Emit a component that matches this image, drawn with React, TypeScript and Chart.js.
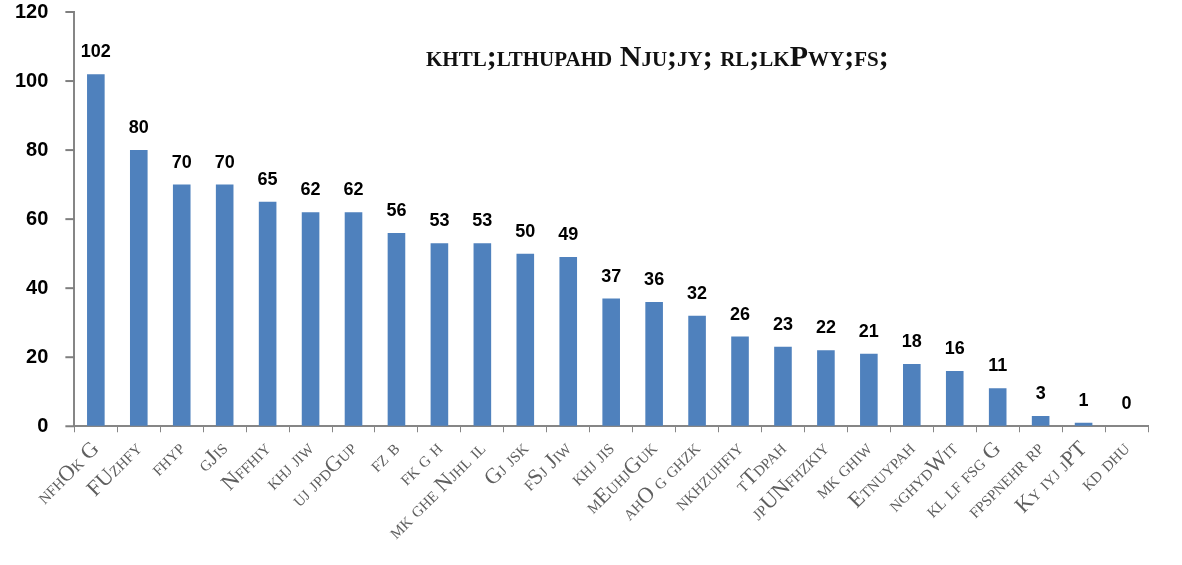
import React, { useEffect, useRef } from "react";
import { Chart, registerables } from "chart.js";

Chart.register(...registerables);

const TITLE = "khtl;lthupahd Nju;jy; rl;lkPwy;fs;";

const categories = [
  "nfhOk G",
  "FUzhfy",
  "fhyp",
  "gJis",
  "Nffhiy",
  "khj jiw",
  "uj jpdGup",
  "fz b",
  "fk g h",
  "mk ghe Njhl il",
  "Gj jsk",
  "fSj Jiw",
  "khj jis",
  "mEuhjGuk",
  "ahO g ghzk",
  "nkhzuhfiy",
  "tTdpah",
  "jpUNfhzkiy",
  "mk ghiw",
  "Etnuypah",
  "nghydWit",
  "kl lf fsg G",
  "fpspnehr rp",
  "Ky iyj jPT",
  "kd dhu",
];

const values = [102, 80, 70, 70, 65, 62, 62, 56, 53, 53, 50, 49, 37, 36, 32, 26, 23, 22, 21, 18, 16, 11, 3, 1, 0];

const yTicks = [0, 20, 40, 60, 80, 100, 120];

const overlayPlugin = {
  id: "overlay",
  afterDraw(chart: any) {
    const { ctx, chartArea } = chart;
    const meta = chart.getDatasetMeta(0);
    const yScale = chart.scales.y;
    ctx.save();
    // y tick marks, left of the axis line
    ctx.strokeStyle = "#7f7f7f";
    ctx.lineWidth = 2;
    ctx.setLineDash([]);
    const axisX = chartArea.left;
    yTicks.forEach((v) => {
      const y = yScale.getPixelForValue(v);
      ctx.beginPath();
      ctx.moveTo(axisX - 9, y);
      ctx.lineTo(axisX, y);
      ctx.stroke();
    });
    // data labels
    ctx.fillStyle = "#000";
    ctx.font = "bold 18px 'Liberation Sans', Arial, sans-serif";
    ctx.textAlign = "center";
    ctx.textBaseline = "alphabetic";
    meta.data.forEach((bar: any, i: number) => {
      ctx.fillText(String(values[i]), bar.x, bar.y - 17);
    });
    // title
    ctx.font = "small-caps bold 30px 'Liberation Serif', serif";
    ctx.textBaseline = "middle";
    const tx = chartArea.left + (chartArea.right - chartArea.left) * 0.543;
    const ty = chartArea.top + 46;
    ctx.fillStyle = "#111";
    ctx.fillText(TITLE, tx, ty);
    ctx.restore();
  },
};

export default function App() {
  const ref = useRef<HTMLCanvasElement | null>(null);
  useEffect(() => {
    document.body.style.margin = "0";
    if (!ref.current) return;
    const chart = new Chart(ref.current, {
      type: "bar",
      data: {
        labels: categories,
        datasets: [
          {
            data: values,
            backgroundColor: "#4F81BD",
            borderWidth: 0,
            barPercentage: 0.41,
            categoryPercentage: 1,
          },
        ],
      },
      options: {
        animation: false,
        responsive: false,
        maintainAspectRatio: false,
        layout: { padding: { left: 15, right: 34, top: 0, bottom: 16 } },
        plugins: {
          legend: { display: false },
          tooltip: { enabled: false },
          title: { display: false },
        },
        scales: {
          x: {
            grid: {
              display: true,
              drawOnChartArea: false,
              drawTicks: true,
              tickLength: 6,
              color: "#868686",
              offset: true,
            },
            border: { display: true, color: "#868686", width: 2 },
            ticks: {
              autoSkip: false,
              maxRotation: 45,
              minRotation: 45,
              padding: 4,
              color: "#5f5f5f",
              font: { family: "'Liberation Serif', serif", size: 22, weight: "small-caps normal" as any },
            },
          },
          y: {
            min: 0,
            max: 120,
            afterBuildTicks(axis: any) {
              axis.ticks = yTicks.map((v) => ({ value: v }));
            },
            grid: {
              display: true,
              drawOnChartArea: false,
              drawTicks: true,
              tickLength: 26,
              tickColor: "rgba(0,0,0,0)",
              color: "#868686",
            },
            border: { display: true, color: "#868686", width: 2 },
            ticks: {
              padding: 0,
              color: "#000",
              font: { family: "'Liberation Sans', Arial, sans-serif", size: 20, weight: "bold" },
            },
          },
        },
      },
      plugins: [overlayPlugin],
    });
    return () => chart.destroy();
  }, []);
  return (
    <div style={{ width: 1182, height: 565 }}>
      <canvas ref={ref} width={1182} height={565} style={{ width: 1182, height: 565, display: "block" }} />
    </div>
  );
}
